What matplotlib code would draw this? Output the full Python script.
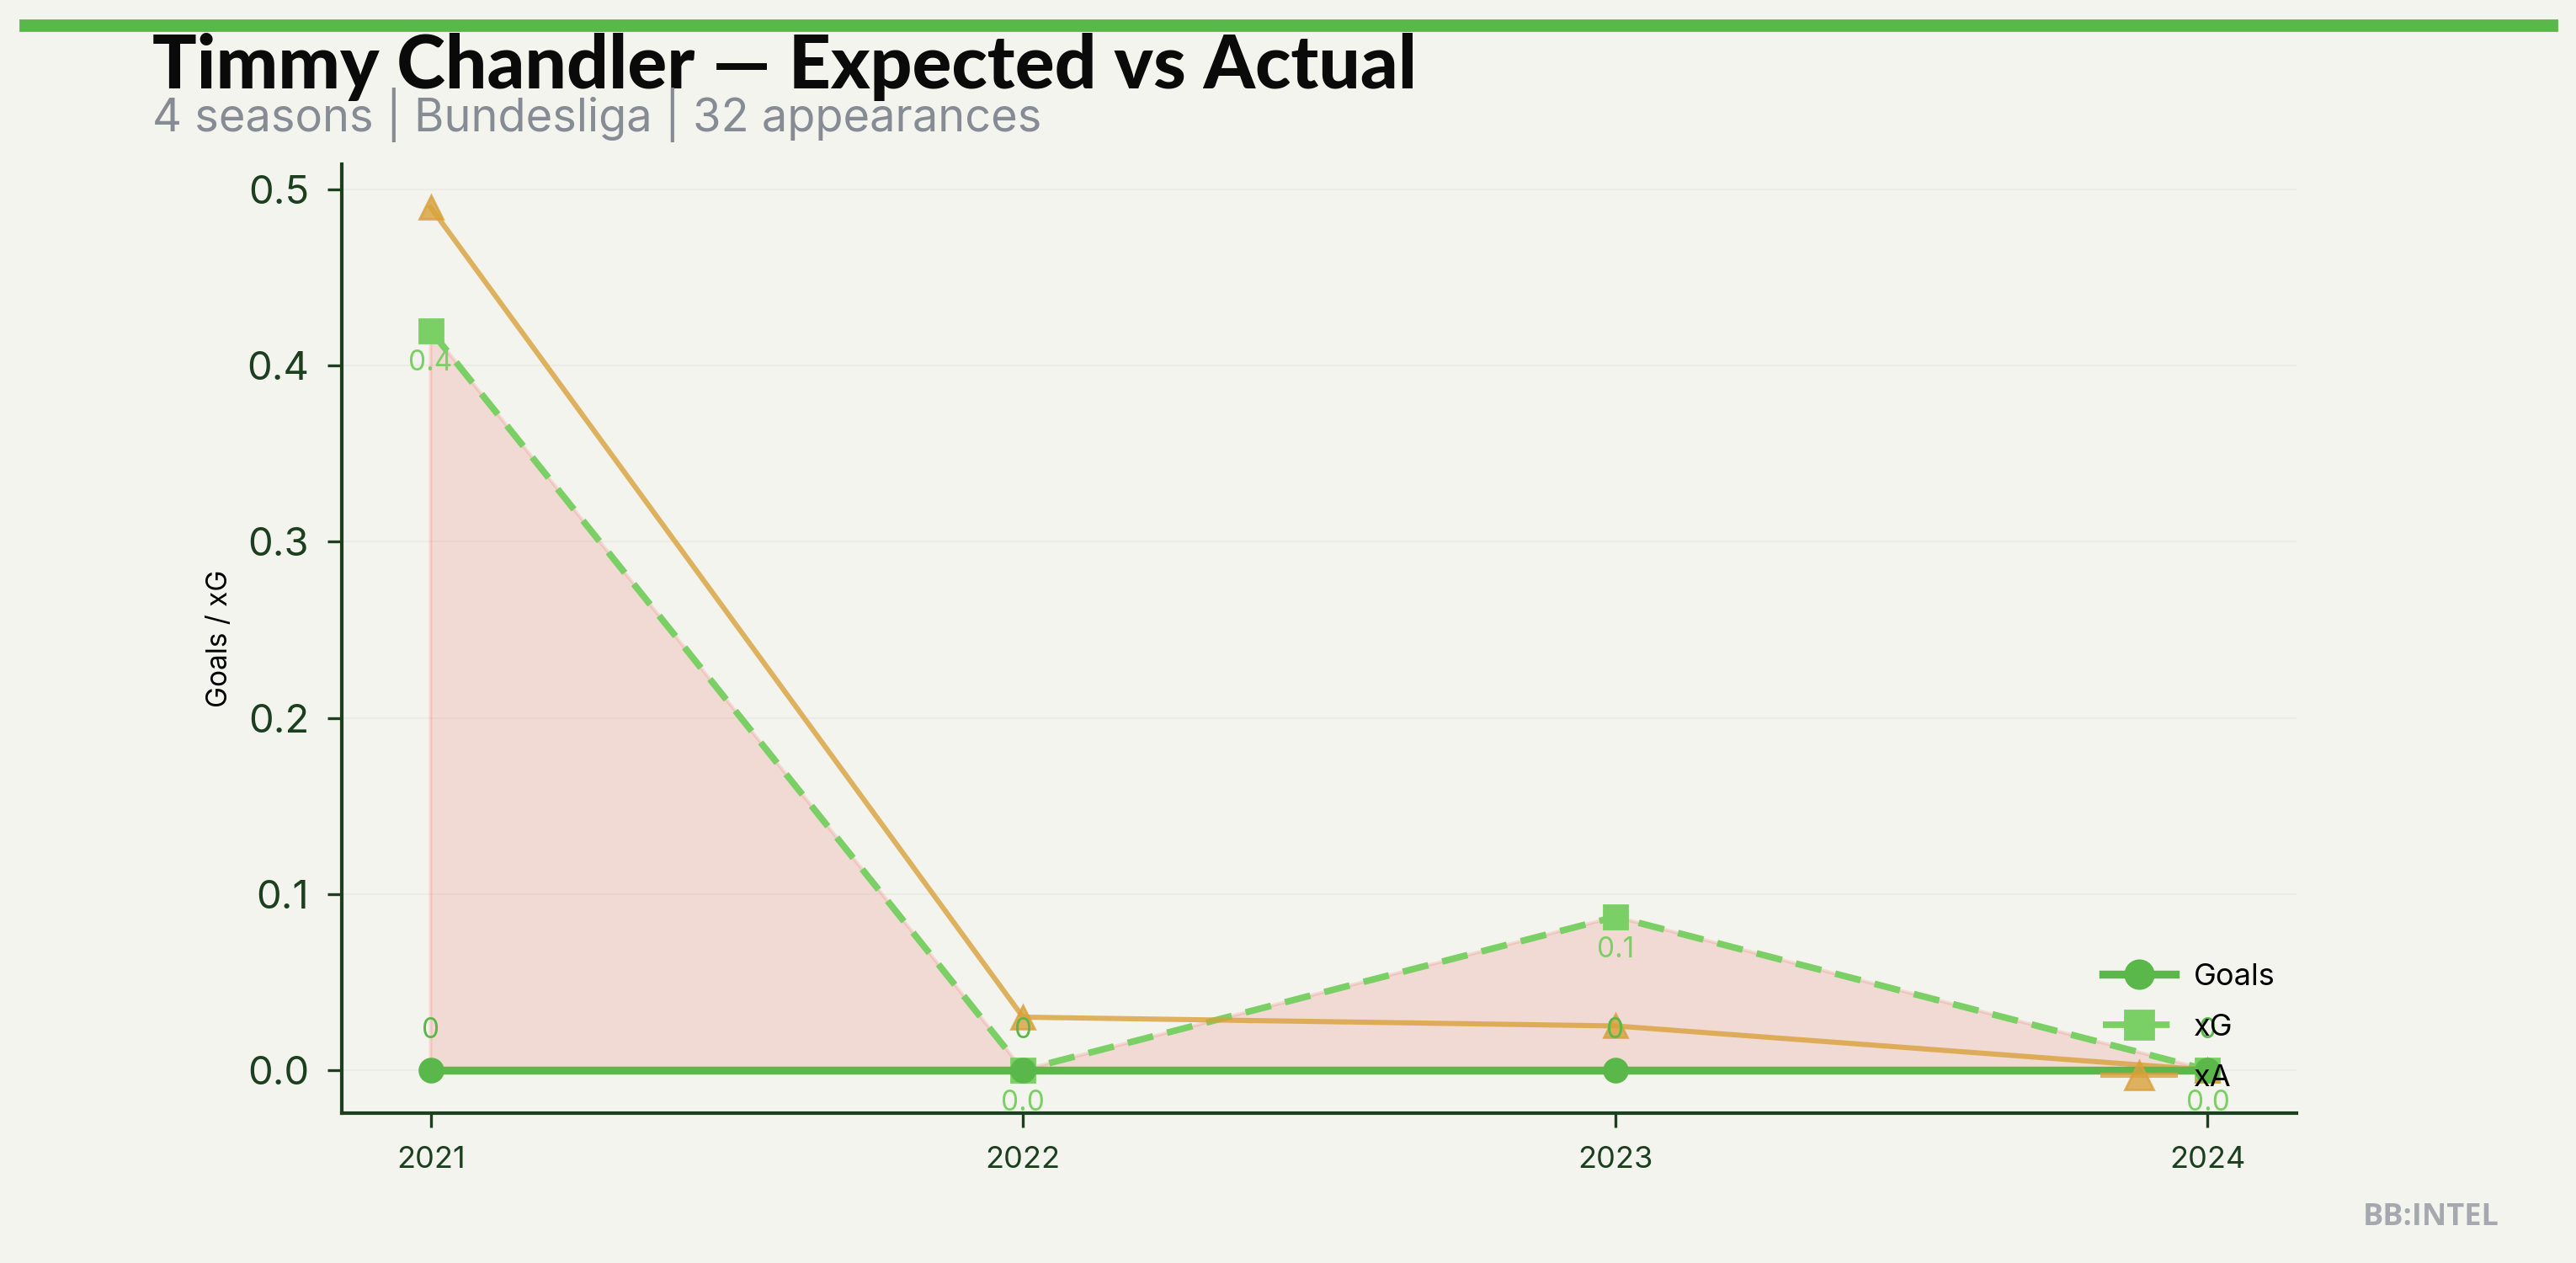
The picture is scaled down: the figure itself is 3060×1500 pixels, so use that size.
import matplotlib
matplotlib.use("Agg")
import matplotlib.pyplot as plt
from matplotlib.patches import Rectangle

# season data
SEASONS = ["2021", "2022", "2023", "2024"]
GOALS   = [0, 0, 0, 0]
XG      = [0.42, 0.0, 0.087, 0.0]
XA      = [0.49, 0.03, 0.025, 0.0]

TITLE    = "Timmy Chandler \u2014 Expected vs Actual"
SUBTITLE = "4 seasons | Bundesliga | 32 appearances"

BG       = "#f4f4ef"
C_GOALS  = "#5ab84b"
C_XG     = "#7acf65"
C_XA     = "#d9a13a"
C_FILL   = "#e74c3c"
C_AXIS   = "#1c3f1f"

plt.rcParams["font.family"] = ["Inter", "DejaVu Sans"]

fig = plt.figure(figsize=(15.3, 7.5), dpi=200, facecolor=BG)
ax = fig.add_axes([0.1327, 0.1187, 0.7588, 0.7513])
ax.set_facecolor(BG)

x = list(range(len(SEASONS)))

ax.fill_between(x, GOALS, XG, where=[g < e for g, e in zip(GOALS, XG)],
                interpolate=True, color=C_FILL, alpha=0.15, linewidth=1.5)
ax.plot(x, GOALS, color=C_GOALS, lw=3.4, marker="o", ms=10, label="Goals", zorder=4)
ax.plot(x, XG, color=C_XG, lw=2.8, ls=(0, (4, 2.2)), marker="s", ms=10,
        label="xG", zorder=3)
ax.plot(x, XA, color=C_XA, lw=2.2, marker="^", ms=10, alpha=0.8,
        label="xA", zorder=3)

for xi, g in zip(x, GOALS):
    ax.annotate(f"{g:.0f}", (xi, g), xytext=(0, 17), textcoords="offset points",
                ha="center", va="center", fontsize=12, color=C_GOALS, zorder=5)
for xi, e in zip(x, XG):
    ax.annotate(f"{e:.1f}", (xi, e), xytext=(0, -14), textcoords="offset points",
                ha="center", va="center", fontsize=12, color=C_XG, zorder=5)

ax.set_xticks(x)
ax.set_xticklabels(SEASONS)
ax.set_ylabel("Goals / xG", fontsize=12, color="black", labelpad=6)
ax.tick_params(axis="x", labelsize=13, colors=C_AXIS, length=6, width=1.2, pad=8)
ax.tick_params(axis="y", labelsize=17, colors=C_AXIS, length=6, width=1.2, pad=8)
for s in ["top", "right"]:
    ax.spines[s].set_visible(False)
for s in ["left", "bottom"]:
    ax.spines[s].set_color(C_AXIS)
    ax.spines[s].set_linewidth(1.5)
ax.grid(axis="y", color="#ecece6", lw=0.8)
ax.set_axisbelow(True)

leg = ax.legend(loc="lower right", frameon=False, fontsize=13, handlelength=2.4,
                markerscale=1.2, labelspacing=0.75, handletextpad=0.6,
                borderaxespad=0.3)

# header
fig.patches.append(Rectangle((0.0078, 0.976), 0.9847, 0.008, transform=fig.transFigure,
                             color=C_GOALS, zorder=10))
fig.text(0.059, 0.93, TITLE, fontsize=31.5, fontweight="black", family=["Lato", "DejaVu Sans"],
         color="#0a0a0a", ha="left", va="baseline")
fig.text(0.059, 0.896, SUBTITLE, fontsize=19.5, color="#868b94", ha="left", va="baseline")
fig.text(0.97, 0.03, "BB:INTEL", fontsize=13, fontweight="bold", color="#a5a8ae",
         family=["Open Sans", "DejaVu Sans"], ha="right", va="baseline")

fig.savefig("out.png", dpi=200, facecolor=BG)
